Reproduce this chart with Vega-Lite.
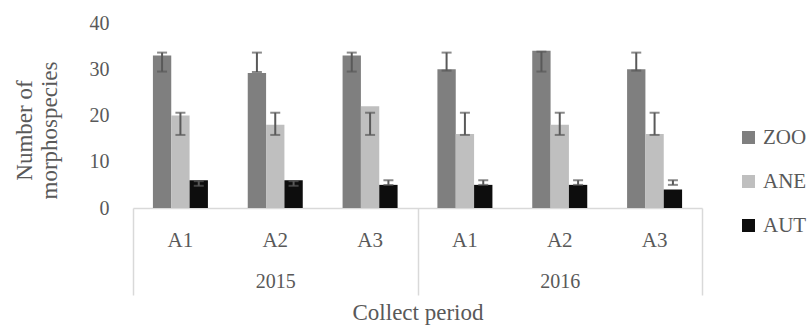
{
  "$schema": "https://vega.github.io/schema/vega-lite/v6.json",
  "width": 569,
  "height": 185,
  "autosize": {"type": "none"},
  "padding": {"left": 133, "top": 23, "right": 109, "bottom": 119},
  "background": "white",
  "config": {
    "font": "Liberation Serif",
    "view": {"stroke": null},
    "axis": {"labelColor": "#595959", "titleColor": "#595959", "grid": false, "titleFontWeight": "normal"},
    "legend": {"labelColor": "#595959"}
  },
  "data": {
    "values": [
      {"year": "2015", "site": "A1", "grp": "2015|A1", "series": "ZOO", "value": 33, "low": 29.5, "high": 33.6},
      {"year": "2015", "site": "A1", "grp": "2015|A1", "series": "ANE", "value": 20, "low": 15.8, "high": 20.6},
      {"year": "2015", "site": "A1", "grp": "2015|A1", "series": "AUT", "value": 6, "low": 4.8, "high": 5.8},
      {"year": "2015", "site": "A2", "grp": "2015|A2", "series": "ZOO", "value": 29.2, "low": 29.4, "high": 33.6},
      {"year": "2015", "site": "A2", "grp": "2015|A2", "series": "ANE", "value": 18, "low": 15.8, "high": 20.6},
      {"year": "2015", "site": "A2", "grp": "2015|A2", "series": "AUT", "value": 6, "low": 4.8, "high": 5.8},
      {"year": "2015", "site": "A3", "grp": "2015|A3", "series": "ZOO", "value": 33, "low": 29.5, "high": 33.6},
      {"year": "2015", "site": "A3", "grp": "2015|A3", "series": "ANE", "value": 22, "low": 15.8, "high": 20.6},
      {"year": "2015", "site": "A3", "grp": "2015|A3", "series": "AUT", "value": 5, "low": 5, "high": 6},
      {"year": "2016", "site": "A1", "grp": "2016|A1", "series": "ZOO", "value": 30, "low": 29.7, "high": 33.6},
      {"year": "2016", "site": "A1", "grp": "2016|A1", "series": "ANE", "value": 16, "low": 15.8, "high": 20.6},
      {"year": "2016", "site": "A1", "grp": "2016|A1", "series": "AUT", "value": 5, "low": 5, "high": 6},
      {"year": "2016", "site": "A2", "grp": "2016|A2", "series": "ZOO", "value": 34, "low": 29.5, "high": 33.8},
      {"year": "2016", "site": "A2", "grp": "2016|A2", "series": "ANE", "value": 18, "low": 15.8, "high": 20.6},
      {"year": "2016", "site": "A2", "grp": "2016|A2", "series": "AUT", "value": 5, "low": 5, "high": 6},
      {"year": "2016", "site": "A3", "grp": "2016|A3", "series": "ZOO", "value": 30, "low": 29.7, "high": 33.6},
      {"year": "2016", "site": "A3", "grp": "2016|A3", "series": "ANE", "value": 16, "low": 15.8, "high": 20.6},
      {"year": "2016", "site": "A3", "grp": "2016|A3", "series": "AUT", "value": 4, "low": 5, "high": 6}
    ]
  },
  "resolve": {"scale": {"x": "independent"}, "axis": {"x": "independent"}},
  "layer": [
    {
      "layer": [
        {
          "mark": {"type": "bar"},
          "encoding": {
            "x": {"field": "grp", "type": "nominal", "sort": null,
              "scale": {"paddingInner": 0.42, "paddingOuter": 0.21},
              "axis": {"title": null, "labelAngle": 0, "ticks": false, "domain": true, "domainColor": "#d9d9d9", "domainWidth": 1.5, "labelPadding": 21, "labelFont": "Liberation Serif", "labelFontSize": 21, "labelExpr": "split(datum.label, '|')[1]"}},
            "xOffset": {"field": "series", "type": "nominal", "sort": ["ZOO", "ANE", "AUT"], "scale": {"paddingInner": 0, "paddingOuter": 0}},
            "y": {"field": "value", "type": "quantitative",
              "scale": {"domain": [0, 40]},
              "axis": {"values": [0, 10, 20, 30, 40], "domain": false, "ticks": false, "labelPadding": 24, "labelFont": "Liberation Serif", "labelFontSize": 20,
                "title": ["Number of", "morphospecies"], "titleFont": "Liberation Serif", "titleFontSize": 23, "titlePadding": 28, "titleLineHeight": 25, "titleY": 107}},
            "color": {"field": "series", "type": "nominal",
              "scale": {"domain": ["ZOO", "ANE", "AUT"], "range": ["#7f7f7f", "#bfbfbf", "#0d0d0d"]},
              "legend": {"title": null, "orient": "none", "legendX": 605, "legendY": 104, "padding": 0, "symbolType": "square", "symbolSize": 169, "symbolStrokeWidth": 0, "labelFont": "Liberation Serif", "labelFontSize": 21, "rowPadding": 22, "labelOffset": 4}}
          }
        },
        {
          "mark": {"type": "rule", "color": "#595959", "strokeWidth": 2},
          "encoding": {
            "x": {"field": "grp", "type": "nominal", "sort": null},
            "xOffset": {"field": "series", "type": "nominal", "sort": ["ZOO", "ANE", "AUT"]},
            "y": {"field": "low", "type": "quantitative"},
            "y2": {"field": "high"}
          }
        },
        {
          "mark": {"type": "tick", "color": "#595959", "thickness": 2, "size": 10, "orient": "horizontal"},
          "encoding": {
            "x": {"field": "grp", "type": "nominal", "sort": null},
            "xOffset": {"field": "series", "type": "nominal", "sort": ["ZOO", "ANE", "AUT"]},
            "y": {"field": "low", "type": "quantitative"}
          }
        },
        {
          "mark": {"type": "tick", "color": "#595959", "thickness": 2, "size": 10, "orient": "horizontal"},
          "encoding": {
            "x": {"field": "grp", "type": "nominal", "sort": null},
            "xOffset": {"field": "series", "type": "nominal", "sort": ["ZOO", "ANE", "AUT"]},
            "y": {"field": "high", "type": "quantitative"}
          }
        }
      ]
    },
    {
      "mark": {"type": "text", "text": ""},
      "encoding": {
        "x": {"field": "year", "type": "nominal",
          "scale": {"paddingInner": 0, "paddingOuter": 0},
          "axis": {"orient": "bottom", "domain": false, "tickBand": "extent", "ticks": true, "tickSize": 87, "tickColor": "#d9d9d9", "tickWidth": 1.5, "labelAngle": 0, "labelFont": "Liberation Serif", "labelFontSize": 20, "labelPadding": -24, "title": "Collect period", "titleFont": "Liberation Serif", "titleFontSize": 23, "titlePadding": 6}}
      }
    }
  ]
}
